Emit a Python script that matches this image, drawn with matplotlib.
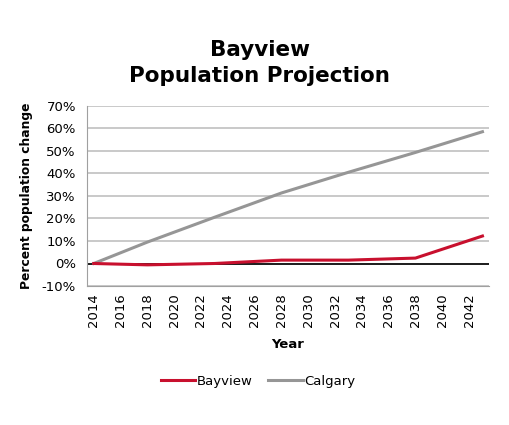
import matplotlib
matplotlib.use("Agg")
import matplotlib.pyplot as plt
from matplotlib.ticker import FuncFormatter, MultipleLocator

years = [2014, 2018, 2023, 2028, 2033, 2038, 2043]
bayview = [0.0, -0.6, 0.0, 1.5, 1.5, 2.4, 12.2]
calgary = [0.0, 9.5, 20.5, 31.3, 40.5, 49.3, 58.5]
tick_years = list(range(2014, 2043, 2))

RED = "#C8102E"
GRAY = "#969696"

fig = plt.figure(figsize=(5.09, 4.25), dpi=100)
ax = fig.add_axes([0.171, 0.327, 0.79, 0.424])

ax.set_xlim(2013.5, 2043.5)
ax.set_ylim(-10, 70)
ax.yaxis.set_major_locator(MultipleLocator(10))
ax.yaxis.set_major_formatter(FuncFormatter(lambda v, p: f"{int(round(v))}%"))
ax.grid(axis="y", color="#C0C0C0", linewidth=1.2)
ax.set_axisbelow(True)
ax.axhline(0, color="black", linewidth=1.2, zorder=2)

ax.plot(years, calgary, color=GRAY, linewidth=2.2, label="Calgary", zorder=3)
ax.plot(years, bayview, color=RED, linewidth=2.2, label="Bayview", zorder=4)

ax.set_xticks(tick_years)
ax.set_xticklabels([str(y) for y in tick_years], rotation=90)
ax.tick_params(axis="both", length=0, labelsize=9.5)
ax.tick_params(axis="y", pad=8)
ax.tick_params(axis="x", pad=5)

for s in ["top", "right"]:
    ax.spines[s].set_visible(False)
ax.spines["left"].set_color("#A0A0A0")
ax.spines["bottom"].set_color("#A0A0A0")

ax.set_xlabel("Year", fontsize=9.5, fontweight="bold", labelpad=8)
ax.set_ylabel("Percent population change", fontsize=8.8, fontweight="bold", labelpad=6)

fig.text(0.51, 0.852, "Bayview\nPopulation Projection", ha="center", va="center",
         fontsize=15.5, fontweight="bold", linespacing=1.35)

handles, labels = ax.get_legend_handles_labels()
order = [1, 0]
fig.legend([handles[i] for i in order], [labels[i] for i in order],
           loc="center", bbox_to_anchor=(0.507, 0.103), ncol=2, frameon=False,
           fontsize=9.5, handlelength=2.6, handletextpad=0.1, columnspacing=1.2)

fig.savefig("out.png", dpi=100)
